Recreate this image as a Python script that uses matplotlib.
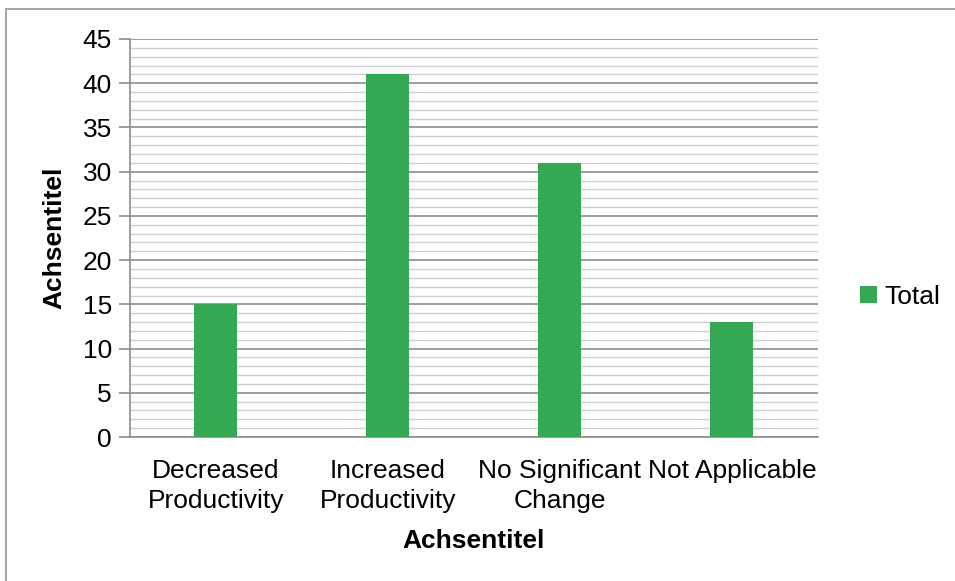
import matplotlib.pyplot as plt
from matplotlib.patches import Rectangle
from matplotlib.ticker import MultipleLocator

plt.rcParams['font.family'] = ['Liberation Sans', 'DejaVu Sans']

categories = ["Decreased\nProductivity", "Increased\nProductivity",
              "No Significant\nChange", "Not Applicable"]
totals = [15, 41, 31, 13]
series_name = "Total"
axis_title = "Achsentitel"

GREEN = "#34a853"
MAJOR = "#8c8c8c"
MINOR = "#cfcfcf"
FS = 19

fig = plt.figure(figsize=(9.55, 5.81), dpi=100)
ax = fig.add_axes([0.1361, 0.2478, 0.7204, 0.6851])

x = range(len(categories))
ax.bar(x, totals, width=0.25, color=GREEN, zorder=3, label=series_name)

ax.set_xlim(-0.5, len(categories) - 0.5)
ax.set_ylim(0, 45)
ax.yaxis.set_major_locator(MultipleLocator(5))
ax.yaxis.set_minor_locator(MultipleLocator(1))
ax.grid(axis="y", which="major", color=MAJOR, linewidth=1.2, zorder=1)
ax.grid(axis="y", which="minor", color=MINOR, linewidth=1.0, zorder=0)
ax.tick_params(axis="y", which="major", length=8, width=1.2, color=MAJOR,
               labelsize=FS, pad=5)
ax.tick_params(axis="y", which="minor", length=0)
ax.tick_params(axis="x", length=0, labelsize=FS, pad=16)
ax.set_xticks(list(x))
ax.set_xticklabels(categories, linespacing=1.28, multialignment="center")
ax.set_yticks(range(0, 46, 5))

for side in ("top", "right"):
    ax.spines[side].set_visible(False)
for side in ("left", "bottom"):
    ax.spines[side].set_color(MAJOR)
    ax.spines[side].set_linewidth(1.2)

ax.set_ylabel(axis_title, fontsize=FS, fontweight="bold", labelpad=12)
ax.set_xlabel(axis_title, fontsize=FS, fontweight="bold", labelpad=12)

ax.legend(loc="center left", bbox_to_anchor=(1.027, 0.352), frameon=False,
          fontsize=FS, handlelength=0.65, handleheight=0.65, handletextpad=0.25)

# outer chart frame
fig.add_artist(Rectangle((6 / 955, -0.01), 1.05, 1 - 9 / 581 + 0.01,
                         transform=fig.transFigure, fill=False,
                         edgecolor="#a6a6a6", linewidth=1.5))

fig.savefig("out.png", dpi=100)
